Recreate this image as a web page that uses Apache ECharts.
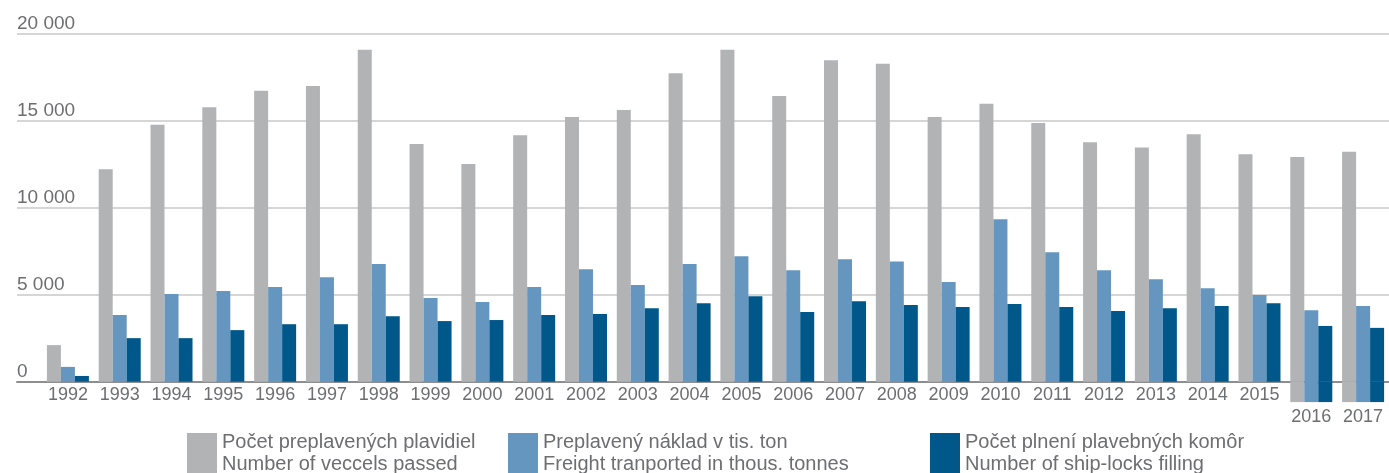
<!DOCTYPE html>
<html>
<head>
<meta charset="utf-8">
<script src="https://cdn.jsdelivr.net/npm/echarts@6/dist/echarts.min.js"></script>
<style>
  html, body { margin: 0; padding: 0; background: #ffffff; }
  #chart { width: 1389px; height: 473px; }
</style>
</head>
<body>
<div id="chart"></div>
<script>
// Years on the category axis
const years = ['1992','1993','1994','1995','1996','1997','1998','1999','2000','2001','2002','2003','2004',
  '2005','2006','2007','2008','2009','2010','2011','2012','2013','2014','2015','2016','2017'];

// Number of vessels passed
const vesselsPassed = [2100, 12200, 14750, 15750, 16700, 16980, 19050, 13650, 12500, 14150, 15200, 15600, 17700,
  19050, 16400, 18450, 18250, 15200, 15950, 14850, 13750, 13450, 14200, 13050, 12900, 13200];

// Freight transported, thousands of tonnes
const freightThousTonnes = [850, 3830, 5030, 5200, 5430, 6000, 6750, 4800, 4580, 5430, 6450, 5550, 6750,
  7200, 6400, 7030, 6900, 5720, 9330, 7430, 6400, 5880, 5370, 4980, 4100, 4340];

// Number of ship-lock fillings
const lockFillings = [330, 2500, 2500, 2960, 3300, 3300, 3760, 3480, 3540, 3830, 3880, 4220, 4510,
  4900, 4000, 4620, 4400, 4290, 4460, 4290, 4060, 4220, 4340, 4510, 3200, 3090];

// The last two years' bars are drawn starting below the base line
const belowBaseline = [null, null, null, null, null, null, null, null, null, null, null, null, null,
  null, null, null, null, null, null, null, null, null, null, null, -1170, -1170];

// Years whose labels sit on a second row
const lowLabelYears = ['2016', '2017'];

// Value axis ticks
const yTicks = [0, 5000, 10000, 15000, 20000];

// Legend texts (Slovak / English)
const legendSk = ['Počet preplavených plavidiel', 'Preplavený náklad v tis. ton', 'Počet plnení plavebných komôr'];
const legendEn = ['Number of veccels passed', 'Freight tranported in thous. tonnes', 'Number of ship-locks filling'];

const colors = ['#b2b3b5', '#6596c0', '#00578a'];
const textColor = '#6d6e71';
const fontFamily = '"Liberation Sans", Arial, sans-serif';

// Layout
const W = 1389, H = 473;
const plotTop = 33.3, baseY = 381.7;
const yMax = yTicks[yTicks.length - 1];
const yInterval = yTicks[1] - yTicks[0];
const pxPerUnit = (baseY - plotTop) / yMax;
const belowMin = Math.min.apply(null, belowBaseline.filter(v => v !== null));
const barsBottomY = baseY - belowMin * pxPerUnit;

const chart = echarts.init(document.getElementById('chart'), null, { renderer: 'canvas' });

const metrics = [vesselsPassed, freightThousTonnes, lockFillings];
const series = [];
metrics.forEach((data, i) => {
  series.push({
    name: legendSk[i], type: 'bar', stack: 's' + i,
    xAxisIndex: 1, yAxisIndex: 1,
    data: data, barWidth: 14, barGap: '0%',
    itemStyle: { color: colors[i] }
  });
});
metrics.forEach((data, i) => {
  series.push({
    name: 'ext' + i, type: 'bar', stack: 's' + i,
    xAxisIndex: 1, yAxisIndex: 1,
    data: belowBaseline, barWidth: 14, barGap: '0%',
    itemStyle: { color: colors[i] }
  });
});

const legendLefts = [187, 508, 930];
const legends = legendSk.map((name, i) => ({
  data: [name],
  left: legendLefts[i], top: 431,
  padding: 0,
  icon: 'rect', itemWidth: 30, itemHeight: 40, itemGap: 0,
  selectedMode: false,
  formatter: n => n + '\n' + legendEn[legendSk.indexOf(n)],
  textStyle: { color: textColor, fontSize: 20, lineHeight: 22, fontFamily: fontFamily, padding: [0, 0, 0, 0] }
}));

chart.setOption({
  animation: false,
  backgroundColor: '#ffffff',
  grid: [
    // frame for grid lines and value labels
    { left: 17, right: 0, top: plotTop, bottom: H - baseY },
    // frame for the bars
    { left: 42, right: 0, top: plotTop, bottom: H - barsBottomY }
  ],
  legend: legends,
  xAxis: [
    {
      gridIndex: 0, type: 'value', min: 0, max: 1,
      axisLine: { show: true, onZero: true, lineStyle: { color: '#8e8e90', width: 2 } },
      axisTick: { show: false }, axisLabel: { show: false }, splitLine: { show: false }
    },
    {
      gridIndex: 1, type: 'category', data: years,
      // lift the year labels from the bars' frame bottom up to the zero line
      offset: baseY - barsBottomY,
      axisLine: { show: false, onZero: false },
      axisTick: { show: false },
      axisLabel: {
        interval: 0, margin: 2, color: textColor, fontSize: 18, fontFamily: fontFamily, lineHeight: 22,
        formatter: v => (lowLabelYears.indexOf(v) >= 0 ? '\n' + v : v)
      }
    }
  ],
  yAxis: [
    {
      gridIndex: 0, type: 'value', min: 0, max: yMax, interval: yInterval,
      axisLine: { show: false }, axisTick: { show: false },
      axisLabel: {
        inside: true, margin: 0, verticalAlign: 'bottom', align: 'left',
        color: textColor, fontSize: 19, fontFamily: fontFamily,
        formatter: v => (v === 0 ? '0' : (v / 1000) + ' 000')
      },
      splitLine: { show: true, lineStyle: { color: '#c8c8ca', width: 1.5 } }
    },
    {
      gridIndex: 1, type: 'value', min: belowMin, max: yMax,
      show: false, splitLine: { show: false }
    }
  ],
  series: series
});
</script>
</body>
</html>
